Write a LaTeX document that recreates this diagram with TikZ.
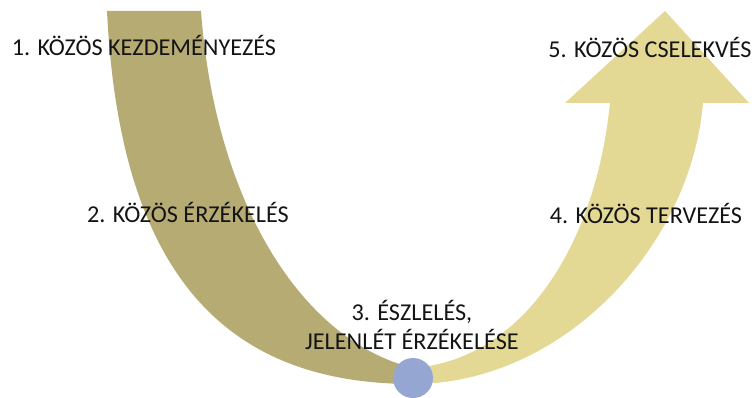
\documentclass[tikz,border=0pt]{standalone}
\usepackage{fontspec}
\setmainfont{Carlito}
\usepackage{tikz}
\usetikzlibrary{positioning}
\definecolor{armdark}{RGB}{181,171,115}
\definecolor{armlight}{RGB}{227,216,148}
\definecolor{dotblue}{RGB}{149,166,210}

\begin{document}
\begin{tikzpicture}[x=1pt, y=-1pt,
    steplabel/.style={font=\fontsize{24.2}{29}\selectfont, text=black!92, inner sep=0pt, align=center}]
  \useasboundingbox (0,0) rectangle (754,398);
  % Left arm: thick at the top, tapering towards the bottom
  \fill[armdark] (107,11) -- (201,11)
    .. controls (215,200) and (300,340) .. (413,368)
    -- (413,384)
    .. controls (230,384) and (120,280) .. (107,11) -- cycle;
  % Right arm with arrow head
  \fill[armlight] (413,368)
    .. controls (520,360) and (595,250) .. (610,103)
    -- (565,103) -- (665,11) -- (749,103) -- (703,103)
    .. controls (690,250) and (560,384) .. (413,384) -- cycle;
  % Turning point
  \fill[dotblue] (413,378) circle (20);
  % Step labels
  \node[steplabel] (s1) at (144,45) {1. KÖZÖS KEZDEMÉNYEZÉS};
  \node[steplabel] (s2) at (188,212) {2. KÖZÖS ÉRZÉKELÉS};
  \node[steplabel] (s3) at (412,325) {3. ÉSZLELÉS,\\JELENLÉT ÉRZÉKELÉSE};
  \node[steplabel] (s4) at (646,213) {4. KÖZÖS TERVEZÉS};
  \node[steplabel] (s5) at (650,47) {5. KÖZÖS CSELEKVÉS};
\end{tikzpicture}
\end{document}
